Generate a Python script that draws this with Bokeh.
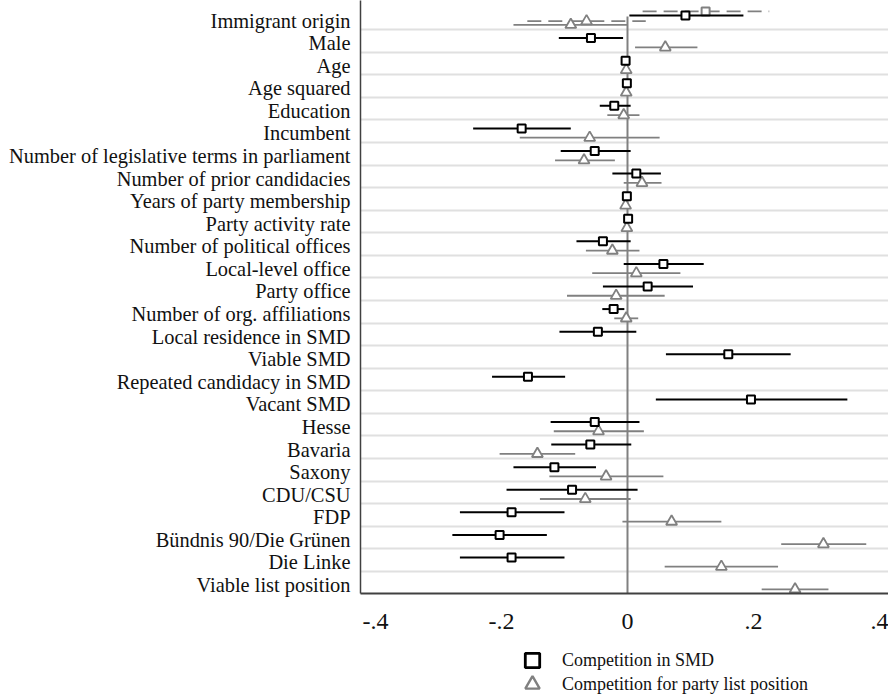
import math
from bokeh.plotting import figure
from bokeh.layouts import column
from bokeh.models import Range1d, FixedTicker, Legend, LegendItem, ColumnDataSource
from bokeh.embed import file_html
from bokeh.resources import INLINE

nan = float("nan")

labels = [
    "Immigrant origin", "Male", "Age", "Age squared", "Education", "Incumbent",
    "Number of legislative terms in parliament", "Number of prior candidacies",
    "Years of party membership", "Party activity rate", "Number of political offices",
    "Local-level office", "Party office", "Number of org. affiliations",
    "Local residence in SMD", "Viable SMD", "Repeated candidacy in SMD", "Vacant SMD",
    "Hesse", "Bavaria", "Saxony", "CDU/CSU", "FDP", "Bündnis 90/Die Grünen",
    "Die Linke", "Viable list position",
]

# Competition in SMD (squares)
smd_coef = [0.092, -0.058, -0.003, -0.001, -0.021, -0.168, -0.052, 0.014, -0.001, 0.001,
            -0.039, 0.057, 0.032, -0.022, -0.047, 0.160, -0.158, 0.196, -0.052, -0.059,
            -0.116, -0.088, -0.184, -0.203, -0.184, nan]
smd_lo = [0.003, -0.109, -0.006, -0.004, -0.044, -0.245, -0.106, -0.024, -0.004, -0.002,
          -0.081, -0.006, -0.039, -0.040, -0.108, 0.061, -0.215, 0.045, -0.122, -0.121,
          -0.181, -0.192, -0.266, -0.278, -0.266, nan]
smd_hi = [0.184, -0.007, 0.001, 0.002, 0.005, -0.090, 0.005, 0.053, 0.002, 0.004,
          0.005, 0.121, 0.104, -0.005, 0.014, 0.259, -0.099, 0.349, 0.019, 0.006,
          -0.050, 0.016, -0.100, -0.128, -0.100, nan]

# Competition for party list position (triangles)
list_coef = [-0.090, 0.060, -0.002, -0.002, -0.006, -0.060, -0.069, 0.023, -0.003, -0.001,
             -0.024, 0.014, -0.018, -0.002, nan, nan, nan, nan, -0.046, -0.143,
             -0.034, -0.067, 0.070, 0.311, 0.149, 0.266]
list_lo = [-0.181, 0.012, -0.005, -0.005, -0.032, -0.171, -0.115, -0.006, -0.006, -0.004,
           -0.066, -0.056, -0.096, -0.021, nan, nan, nan, nan, -0.117, -0.203,
           -0.124, -0.139, -0.008, 0.244, 0.059, 0.213]
list_hi = [0.000, 0.111, 0.001, 0.001, 0.019, 0.051, -0.020, 0.054, 0.000, 0.002,
           0.019, 0.084, 0.059, 0.017, nan, nan, nan, nan, 0.026, -0.083,
           0.057, 0.005, 0.149, 0.379, 0.239, 0.319]

# Alternative specification (dashed), only reported for immigrant origin
alt_labels = ["Immigrant origin"]
alt_smd_coef = [0.124]
alt_smd_lo = [0.024]
alt_smd_hi = [0.225]
alt_list_coef = [-0.065]
alt_list_lo = [-0.159]
alt_list_hi = [0.029]

x_ticks = [-0.4, -0.2, 0.0, 0.2, 0.4]
x_tick_labels = ["-.4", "-.2", "0", ".2", ".4"]

series_names = ["Competition in SMD", "Competition for party list position"]

# ---- layout constants ----
rows = [i + 1 for i in range(len(labels))]
OFF_SMD = -0.22
OFF_LIST = 0.19
OFF_ALT_SMD = -0.40
OFF_ALT_LIST = 0.03
GRID_OFF = 0.40

FONT = "Liberation Serif"
GRAY = "#808080"

p = figure(width=888, height=645, output_backend="svg", toolbar_location=None,
           x_range=Range1d(-0.4238, 0.4143), y_range=Range1d(26.376, 0.114),
           min_border_left=360, min_border_right=0, min_border_top=0,
           min_border_bottom=52, title=None)
p.outline_line_color = None
p.background_fill_color = "white"
p.border_fill_color = "white"

# grid between rows
p.xgrid.visible = False
p.ygrid.ticker = FixedTicker(ticks=[r + GRID_OFF for r in rows[:-1]])
p.ygrid.grid_line_color = "#e0e0e0"
p.ygrid.grid_line_width = 2.2

# axes
xa = p.xaxis[0]
xa.ticker = FixedTicker(ticks=x_ticks)
xa.major_label_overrides = {t: s for t, s in zip(x_ticks, x_tick_labels)}
xa.major_tick_out = 0
xa.major_tick_in = 0
xa.minor_tick_out = 0
xa.minor_tick_in = 0
xa.axis_line_color = "#404040"
xa.axis_line_width = 2
xa.major_label_text_font = FONT
xa.major_label_text_font_size = "24px"
xa.major_label_text_color = "#111111"
xa.major_label_standoff = 20

ya = p.yaxis[0]
ya.ticker = FixedTicker(ticks=rows)
ya.major_label_overrides = {r: l for r, l in zip(rows, labels)}
ya.major_tick_out = 0
ya.major_tick_in = 0
ya.minor_tick_out = 0
ya.minor_tick_in = 0
ya.axis_line_color = "#404040"
ya.axis_line_width = 1.5
ya.major_label_text_font = FONT
ya.major_label_text_font_size = "20.4px"
ya.major_label_text_color = "#111111"
ya.major_label_standoff = 10

# zero reference line
p.segment(x0=[0], x1=[0], y0=[0.823], y1=[26.376], line_color=GRAY, line_width=2)

# data sources
smd_src = ColumnDataSource(dict(y=[r + OFF_SMD for r in rows], coef=smd_coef, lo=smd_lo, hi=smd_hi))
list_src = ColumnDataSource(dict(y=[r + OFF_LIST for r in rows], coef=list_coef, lo=list_lo, hi=list_hi))
alt_rows = [rows[labels.index(l)] for l in alt_labels]
alt_smd_src = ColumnDataSource(dict(y=[r + OFF_ALT_SMD for r in alt_rows], coef=alt_smd_coef,
                                    lo=alt_smd_lo, hi=alt_smd_hi))
alt_list_src = ColumnDataSource(dict(y=[r + OFF_ALT_LIST for r in alt_rows], coef=alt_list_coef,
                                     lo=alt_list_lo, hi=alt_list_hi))

# alternative (dashed) estimates
p.segment(x0="lo", x1="hi", y0="y", y1="y", source=alt_smd_src, line_color=GRAY,
          line_width=1.8, line_dash="14 7")
p.segment(x0="lo", x1="hi", y0="y", y1="y", source=alt_list_src, line_color=GRAY,
          line_width=1.8, line_dash="14 7")
p.scatter(x="coef", y="y", source=alt_smd_src, marker="square", size=8,
          line_color=GRAY, line_width=2, fill_color="white")
p.scatter(x="coef", y="y", source=alt_list_src, marker="triangle", size=11,
          line_color=GRAY, line_width=1.8, fill_color="white")

# main estimates
p.segment(x0="lo", x1="hi", y0="y", y1="y", source=list_src, line_color=GRAY, line_width=1.8)
p.scatter(x="coef", y="y", source=list_src, marker="triangle", size=11,
          line_color=GRAY, line_width=1.8, fill_color="white")
p.segment(x0="lo", x1="hi", y0="y", y1="y", source=smd_src, line_color="black", line_width=2)
p.scatter(x="coef", y="y", source=smd_src, marker="square", size=8,
          line_color="black", line_width=2, fill_color="white")

# ---- legend strip ----
lg = figure(width=888, height=50, output_backend="svg", toolbar_location=None,
            x_range=Range1d(0, 1), y_range=Range1d(0, 1),
            x_axis_type=None, y_axis_type=None,
            min_border_left=0, min_border_right=0, min_border_top=0, min_border_bottom=0,
            title=None)
lg.outline_line_color = None
lg.xgrid.visible = False
lg.ygrid.visible = False
lg.border_fill_color = "white"
lg.background_fill_color = "white"

# legend proxies (no visible data point; only their style is used by the legend)
proxy_sq = lg.scatter(x=[nan], y=[nan], marker="square", line_color="black", line_width=2.8,
                      fill_color="white")
proxy_tri = lg.scatter(x=[nan], y=[nan], marker="triangle", line_color=GRAY, line_width=2.4,
                       fill_color="white")

for renderer, name, loc in [(proxy_sq, series_names[0], (154, 17)),
                            (proxy_tri, series_names[1], (154, -7))]:
    leg = Legend(items=[LegendItem(label=name, renderers=[renderer])],
                 location=loc, orientation="vertical",
                 glyph_width=36, glyph_height=36, label_height=36,
                 padding=0, margin=0, label_standoff=12,
                 border_line_color=None, background_fill_alpha=0,
                 label_text_font=FONT, label_text_font_size="18px",
                 label_text_color="#111111")
    lg.add_layout(leg, "center")

layout = column(p, lg, spacing=0)
open("out.html", "w").write(file_html(layout, INLINE))
